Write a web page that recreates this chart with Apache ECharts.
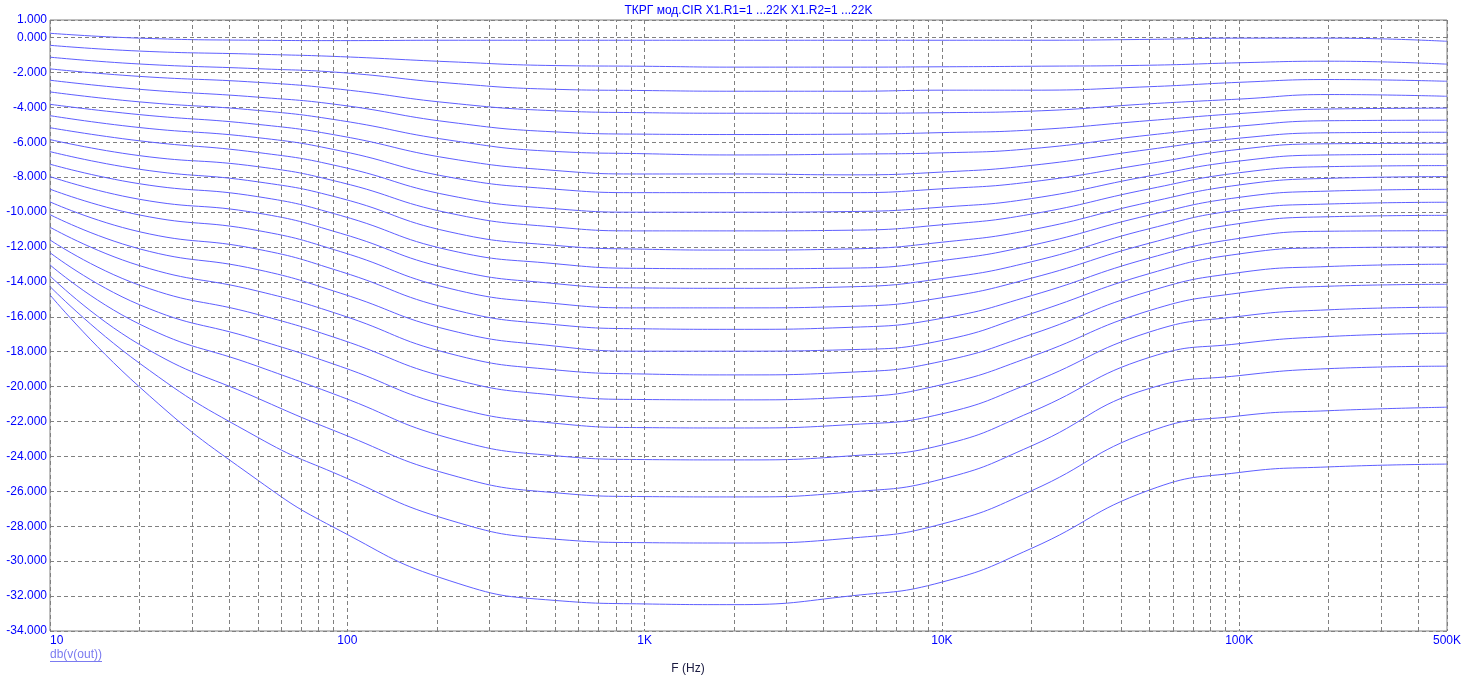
<!DOCTYPE html>
<html>
<head>
<meta charset="utf-8">
<script src="https://cdn.jsdelivr.net/npm/echarts@6/dist/echarts.min.js"></script>
<style>
html,body{margin:0;padding:0;background:#fff;}
#chart{width:1479px;height:690px;}
</style>
</head>
<body>
<div id="chart"></div>
<script>
const titleText = 'ТКРГ мод.CIR X1.R1=1 ...22K X1.R2=1 ...22K';
const traceName = 'db(v(out))';
const xAxisName = 'F (Hz)';

const freqs = [10, 20, 50, 95, 220, 500, 1000, 2000, 5000, 10000, 20000, 50000, 100000, 200000, 500000];
const minorFreqs = [20,30,40,50,60,70,80,90,200,300,400,500,600,700,800,900,
  2000,3000,4000,5000,6000,7000,8000,9000,20000,30000,40000,50000,60000,70000,80000,90000,
  200000,300000,400000];

const curve01 = [0.24, -0.04, -0.16, -0.18, -0.16, -0.16, -0.16, -0.16, -0.16, -0.16, -0.16, -0.11, -0.04, -0.04, -0.22];
const curve02 = [-0.45, -0.78, -0.96, -1.10, -1.39, -1.61, -1.65, -1.70, -1.70, -1.68, -1.65, -1.59, -1.45, -1.36, -1.53];
const curve03 = [-1.13, -1.52, -1.79, -2.01, -2.61, -2.97, -3.04, -3.08, -3.08, -3.02, -3.02, -2.82, -2.57, -2.41, -2.51];
const curve04 = [-1.80, -2.23, -2.57, -2.97, -3.75, -4.20, -4.31, -4.34, -4.34, -4.31, -4.22, -3.80, -3.53, -3.27, -3.37];
const curve05 = [-2.45, -2.97, -3.42, -3.87, -4.85, -5.41, -5.54, -5.56, -5.54, -5.45, -5.30, -4.76, -4.36, -4.10, -4.05];
const curve06 = [-3.12, -3.69, -4.18, -4.76, -5.88, -6.53, -6.66, -6.73, -6.68, -6.61, -6.37, -5.59, -5.08, -4.77, -4.74];
const curve07 = [-3.83, -4.42, -4.98, -5.64, -6.93, -7.62, -7.82, -7.82, -7.87, -7.71, -7.33, -6.41, -5.77, -5.46, -5.43];
const curve08 = [-4.48, -5.16, -5.74, -6.50, -8.00, -8.69, -8.89, -8.89, -8.89, -8.67, -8.27, -7.22, -6.41, -6.09, -6.06];
const curve09 = [-5.17, -5.92, -6.59, -7.40, -9.05, -9.81, -10.01, -10.01, -9.97, -9.72, -9.23, -7.93, -7.08, -6.73, -6.69];
const curve10 = [-5.85, -6.77, -7.40, -8.30, -10.06, -10.86, -11.08, -11.08, -11.04, -10.73, -10.12, -8.67, -7.75, -7.40, -7.34];
const curve11 = [-6.54, -7.55, -8.27, -9.21, -11.13, -11.91, -12.13, -12.18, -12.11, -11.73, -11.02, -9.43, -8.45, -8.07, -7.97];
const curve12 = [-7.26, -8.38, -9.12, -10.20, -12.18, -12.96, -13.23, -13.25, -13.21, -12.78, -11.91, -10.17, -9.16, -8.80, -8.70];
const curve13 = [-7.97, -9.27, -10.06, -11.22, -13.25, -14.10, -14.35, -14.37, -14.28, -13.81, -12.85, -10.95, -9.88, -9.54, -9.44];
const curve14 = [-8.69, -10.17, -11.06, -12.27, -14.37, -15.24, -15.49, -15.49, -15.40, -14.91, -13.79, -11.78, -10.66, -10.27, -10.19];
const curve15 = [-9.42, -11.13, -12.13, -13.41, -15.53, -16.45, -16.69, -16.72, -16.60, -16.09, -14.79, -12.63, -11.51, -11.10, -11.07];
const curve16 = [-10.15, -12.11, -13.30, -14.65, -16.76, -17.68, -17.97, -17.97, -17.88, -17.36, -15.82, -13.52, -12.40, -12.05, -12.00];
const curve17 = [-10.87, -13.07, -14.53, -15.89, -18.10, -19.04, -19.28, -19.33, -19.17, -18.55, -17.01, -14.53, -13.47, -13.12, -12.99];
const curve18 = [-11.60, -14.19, -15.87, -17.30, -19.51, -20.49, -20.74, -20.76, -20.60, -19.89, -18.28, -15.64, -14.64, -14.25, -14.14];
const curve19 = [-12.33, -15.31, -17.32, -18.85, -21.12, -22.10, -22.35, -22.37, -22.17, -21.56, -19.78, -16.87, -15.98, -15.60, -15.45];
const curve20 = [-13.03, -16.42, -18.84, -20.57, -22.95, -23.96, -24.18, -24.20, -23.96, -23.35, -21.45, -18.32, -17.54, -17.13, -16.94];
const curve21 = [-13.66, -17.59, -20.67, -22.67, -25.03, -26.08, -26.30, -26.32, -26.03, -25.30, -23.40, -20.10, -19.37, -18.97, -18.83];
const curve22 = [-14.27, -18.66, -22.91, -25.10, -27.64, -28.74, -28.94, -28.96, -28.67, -27.87, -25.97, -22.57, -21.68, -21.38, -21.18];
const curve23 = [-14.75, -20.02, -25.36, -28.27, -31.11, -32.25, -32.45, -32.49, -31.98, -31.20, -29.27, -25.92, -24.92, -24.60, -24.44];

const curves = [curve01, curve02, curve03, curve04, curve05, curve06, curve07, curve08,
  curve09, curve10, curve11, curve12, curve13, curve14, curve15, curve16, curve17,
  curve18, curve19, curve20, curve21, curve22, curve23];

const chart = echarts.init(document.getElementById('chart'), null, {renderer: 'canvas'});
const FONT = '"Liberation Sans", Arial, sans-serif';
const gridColor = '#808080';
const lineColor = '#5f5fff';

const series = curves.map((vals, idx) => {
  const s = {
    type: 'line',
    name: traceName,
    data: freqs.map((f, i) => [f, vals[i]]),
    showSymbol: false,
    symbol: 'none',
    smooth: 0.5,
    lineStyle: {color: lineColor, width: 1},
    itemStyle: {color: lineColor},
    silent: true,
    z: 3
  };
  if (idx === 0) {
    s.markLine = {
      silent: true,
      symbol: 'none',
      animation: false,
      label: {show: false},
      lineStyle: {color: gridColor, width: 1, type: [4, 3]},
      data: minorFreqs.map(f => ({xAxis: f}))
    };
  }
  return s;
});

chart.setOption({
  animation: false,
  backgroundColor: '#ffffff',
  grid: {
    left: 50, right: 32, top: 20, bottom: 59,
    show: true, borderColor: gridColor, borderWidth: 1, backgroundColor: 'transparent'
  },
  xAxis: {
    type: 'log',
    logBase: 10,
    min: 10,
    max: 500000,
    splitNumber: 5,
    axisLine: {show: false},
    axisTick: {show: false},
    splitLine: {show: true, lineStyle: {color: gridColor, width: 1, type: [4, 3]}},
    axisLabel: {
      color: '#0000ff',
      fontFamily: FONT,
      fontSize: 12,
      margin: 4,
      alignMinLabel: 'left',
      alignMaxLabel: 'center',
      showMinLabel: true,
      showMaxLabel: true,
      formatter: v => {
        const r = Math.round(v);
        return r >= 1000 ? Math.round(r / 1000) + 'K' : String(r);
      }
    }
  },
  yAxis: {
    type: 'value',
    min: -34,
    max: 1,
    interval: 2,
    axisLine: {show: false},
    axisTick: {show: false},
    splitLine: {show: true, lineStyle: {color: gridColor, width: 1, type: [4, 3]}},
    axisLabel: {
      color: '#0000ff',
      fontFamily: FONT,
      fontSize: 12,
      margin: 3,
      showMinLabel: true,
      showMaxLabel: true,
      formatter: v => v.toFixed(3)
    }
  },
  graphic: [
    {type: 'text', x: 748.5, y: 5, silent: true,
      style: {text: titleText, fill: '#0000ff', font: '12px ' + FONT, textAlign: 'center', textVerticalAlign: 'top'}},
    {type: 'text', x: 50, y: 649, silent: true,
      style: {text: traceName, fill: '#7b7bf0', font: '12px ' + FONT, textAlign: 'left', textVerticalAlign: 'top'}},
    {type: 'line', silent: true,
      shape: {x1: 50, y1: 661.5, x2: 102, y2: 661.5},
      style: {stroke: '#7b7bf0', lineWidth: 1}},
    {type: 'text', x: 688, y: 663, silent: true,
      style: {text: xAxisName, fill: '#1a1a40', font: '12px ' + FONT, textAlign: 'center', textVerticalAlign: 'top'}}
  ],
  series: series
});
</script>
</body>
</html>
